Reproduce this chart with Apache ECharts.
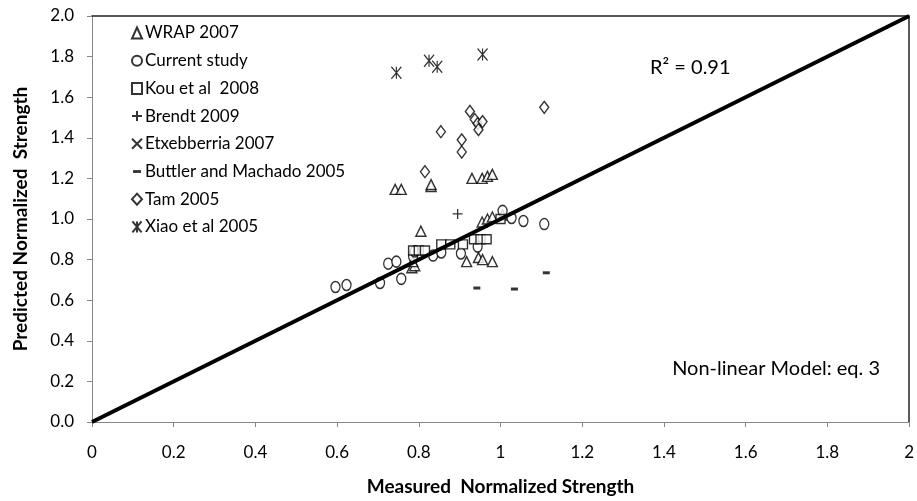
<!DOCTYPE html>
<html><head><meta charset="utf-8">
<script src="https://cdn.jsdelivr.net/npm/echarts@6/dist/echarts.min.js"></script>
<style>html,body{margin:0;padding:0;background:#fff}#c{width:917px;height:501px}</style>
</head><body><div id="c"></div>
<script>
var xTicks = ['0','0.2','0.4','0.6','0.8','1','1.2','1.4','1.6','1.8','2'];
var yTicks = ['0.0','0.2','0.4','0.6','0.8','1.0','1.2','1.4','1.6','1.8','2.0'];

var wrap2007 = [[0.742,1.146],[0.757,1.146],[0.83,1.16],[0.83,1.17],[0.93,1.20],[0.955,1.20],[0.968,1.21],[0.98,1.22],
  [0.805,0.94],[0.955,0.985],[0.968,1.0],[0.98,1.01],[1.005,1.02],
  [0.917,0.79],[0.946,0.81],[0.956,0.80],[0.98,0.79],[0.783,0.76],[0.79,0.77],[0.785,0.79]];
var currentStudy = [[0.596,0.665],[0.623,0.675],[0.705,0.685],[0.725,0.78],[0.745,0.79],[0.757,0.705],[0.786,0.815],
  [0.79,0.84],[0.835,0.82],[0.855,0.835],[0.903,0.83],[0.944,0.864],[1.005,1.04],[1.027,1.005],[1.056,0.99],[1.107,0.975]];
var kou2008 = [[0.786,0.845],[0.80,0.845],[0.815,0.845],[0.855,0.875],[0.877,0.875],[0.908,0.875],[0.935,0.9],[0.951,0.9],[0.966,0.9],[1.0,1.0]];
var brendt2009 = [[0.895,1.025]];
var etxebberria2007 = [];
var buttler2005 = [[0.942,0.66],[1.034,0.655],[1.112,0.735]];
var tam2005 = [[0.925,1.53],[0.937,1.49],[0.944,1.47],[0.956,1.48],[0.946,1.44],[0.854,1.43],[0.905,1.39],[0.905,1.33],[0.815,1.233],[1.107,1.55]];
var xiao2005 = [[0.745,1.72],[0.825,1.78],[0.845,1.75],[0.956,1.81]];
var fitLine = [[0,0],[2,2]];

var FONT = 'Lato';
var open = {color:'#fff', borderColor:'#000', borderWidth:1.4};
var stroke = {color:'transparent', borderColor:'#000', borderWidth:1.3};
var SYM = {
  tri:'triangle', circ:'circle', sq:'rect',
  plus:'path://M5,0L5,10M0,5L10,5',
  cross:'path://M0,0L10,10M10,0L0,10',
  star:'path://M0,0L10,12M10,0L0,12M5,0L5,12',
  dashIcon:'path://M0,0M10,10M1,3.6L9,3.6L9,6.4L1,6.4Z'
};
function sc(name, data, symbol, size, style){
  return {name:name, type:'scatter', data:data, symbol:symbol, symbolSize:size, itemStyle:style, z:3};
}
var chart = echarts.init(document.getElementById('c'), null, {renderer:'canvas'});
chart.setOption({
  animation:false,
  backgroundColor:'#fff',
  grid:{left:92, top:16, right:3, bottom:73, containLabel:false},
  xAxis:[{type:'value', min:0, max:2, interval:0.2,
    name:'Measured  Normalized Strength', nameLocation:'middle', nameGap:55,
    nameTextStyle:{fontFamily:FONT, fontWeight:'bold', fontSize:19, color:'#000'},
    axisLine:{lineStyle:{color:'#888', width:1}}, axisTick:{show:true, length:5, inside:false, lineStyle:{color:'#888'}},
    axisLabel:{fontFamily:FONT, fontSize:17, color:'#000', margin:22, formatter:function(v){return xTicks[Math.round(v/0.2)];}},
    splitLine:{show:false}},
    {type:'value', position:'top', min:0, max:2, axisLine:{show:true, onZero:false, lineStyle:{color:'#222', width:1.5}}, axisTick:{show:false}, axisLabel:{show:false}, splitLine:{show:false}}],
  yAxis:[{type:'value', min:0, max:2, interval:0.2,
    name:'Predicted Normalized  Strength', nameLocation:'middle', nameGap:62,
    nameTextStyle:{fontFamily:FONT, fontWeight:'bold', fontSize:19, color:'#000'},
    axisLine:{lineStyle:{color:'#888', width:1}}, axisTick:{show:true, length:5, lineStyle:{color:'#888'}},
    axisLabel:{fontFamily:FONT, fontSize:17, color:'#000', margin:18, formatter:function(v){return yTicks[Math.round(v/0.2)];}},
    splitLine:{show:false}},
    {type:'value', position:'right', min:0, max:2, axisLine:{show:true, onZero:false, lineStyle:{color:'#222', width:1.5}}, axisTick:{show:false}, axisLabel:{show:false}, splitLine:{show:false}}],
  legend:{orient:'vertical', left:131, top:23, itemGap:7.7, itemWidth:10, itemHeight:11, padding:0,
    textStyle:{fontFamily:FONT, fontSize:17, lineHeight:20, color:'#000', padding:[0,0,0,-2]},
    data:[{name:'WRAP 2007', icon:SYM.tri},{name:'Current study'},{name:'Kou et al  2008'},{name:'Brendt 2009'},
      {name:'Etxebberria 2007'},{name:'Buttler and Machado 2005', icon:SYM.dashIcon},{name:'Tam 2005'},{name:'Xiao et al 2005'}]},
  series:[
    {name:'fit', type:'line', data:fitLine, showSymbol:false, symbol:'none', lineStyle:{color:'#000', width:4}, z:4, silent:true},
    sc('WRAP 2007', wrap2007, SYM.tri, [10,10], open),
    sc('Current study', currentStudy, SYM.circ, [9,11], open),
    sc('Kou et al  2008', kou2008, SYM.sq, [9,9], open),
    sc('Brendt 2009', brendt2009, SYM.plus, [10,10], stroke),
    sc('Etxebberria 2007', etxebberria2007, SYM.cross, [9,9], stroke),
    sc('Buttler and Machado 2005', buttler2005, 'rect', [7,3], {color:'#000'}),
    sc('Tam 2005', tam2005, 'diamond', [9,12], open),
    sc('Xiao et al 2005', xiao2005, SYM.star, [10,12], stroke)
  ],
  graphic:[
    {type:'text', left:650, top:58, style:{text:'R² = 0.91', fontFamily:FONT, fontSize:20, fill:'#000'}},
    {type:'text', right:37, top:359, style:{text:'Non-linear Model: eq. 3', fontFamily:FONT, fontSize:20, fill:'#000'}}
  ]
});
</script></body></html>
